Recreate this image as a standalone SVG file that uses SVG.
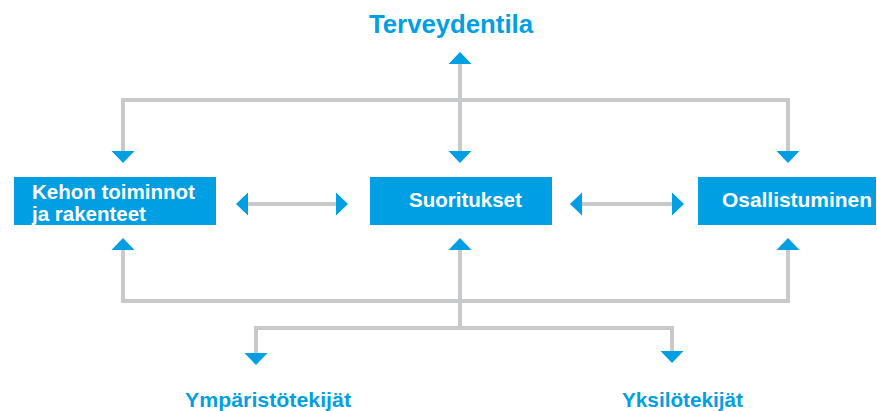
<svg xmlns="http://www.w3.org/2000/svg" xmlns:xlink="http://www.w3.org/1999/xlink" width="877" height="411" viewBox="0 0 877 411">
  <style>
    .box { fill: #009FE3; }
    .bt { font-family: "Liberation Sans", Arial, sans-serif; font-weight: bold; font-size: 20.5px; fill: #FFFFFF; }
    .lbl { font-family: "Liberation Sans", Arial, sans-serif; font-weight: bold; font-size: 21px; fill: #009FE3; }
    .ttl { font-family: "Liberation Sans", Arial, sans-serif; font-weight: bold; font-size: 25px; fill: #009FE3; }
    .ln { fill: none; stroke: #C8C9CA; stroke-width: 4; stroke-linejoin: miter; }
    .ah { fill: #009FE3; }
  </style>
  <defs>
    <polygon id="ad" class="ah" points="-11.5,-12 11.5,-12 0,0"/>
  </defs>
  <g id="connectors">
    <path class="ln" d="M123,153 V100 H788 V153"/>
    <path class="ln" d="M460,63 V153"/>
    <path class="ln" d="M123,249 V301 H788 V249"/>
    <path class="ln" d="M460,249 V328"/>
    <path class="ln" d="M256,354 V328 H672 V352"/>
    <path class="ln" d="M246,204 H338"/>
    <path class="ln" d="M580,204 H674"/>
    <use xlink:href="#ad" transform="translate(123,163)"/>
    <use xlink:href="#ad" transform="translate(460,163)"/>
    <use xlink:href="#ad" transform="translate(788,163)"/>
    <use xlink:href="#ad" transform="translate(460,52) rotate(180)"/>
    <use xlink:href="#ad" transform="translate(123,238) rotate(180)"/>
    <use xlink:href="#ad" transform="translate(460,238) rotate(180)"/>
    <use xlink:href="#ad" transform="translate(788,238) rotate(180)"/>
    <use xlink:href="#ad" transform="translate(256,365)"/>
    <use xlink:href="#ad" transform="translate(672,363)"/>
    <use xlink:href="#ad" transform="translate(236,204) rotate(90)"/>
    <use xlink:href="#ad" transform="translate(348,204) rotate(-90)"/>
    <use xlink:href="#ad" transform="translate(570,204) rotate(90)"/>
    <use xlink:href="#ad" transform="translate(684,204) rotate(-90)"/>
  </g>
  <g id="terveydentila">
    <text class="ttl" x="369" y="33" textLength="164" lengthAdjust="spacingAndGlyphs">Terveydentila</text>
  </g>
  <g id="kehon">
    <rect class="box" x="14" y="177" width="202" height="48"/>
    <text class="bt" x="32" y="199">Kehon toiminnot</text>
    <text class="bt" x="32" y="221">ja rakenteet</text>
  </g>
  <g id="suoritukset">
    <rect class="box" x="370" y="177" width="182" height="48"/>
    <text class="bt" x="409" y="207">Suoritukset</text>
  </g>
  <g id="osallistuminen">
    <rect class="box" x="698" y="177" width="178" height="48"/>
    <text class="bt" x="722" y="207" textLength="150" lengthAdjust="spacingAndGlyphs">Osallistuminen</text>
  </g>
  <g id="ymparistotekijat">
    <text class="lbl" x="185" y="407" textLength="166" lengthAdjust="spacingAndGlyphs">Ympäristötekijät</text>
  </g>
  <g id="yksilotekijat">
    <text class="lbl" x="622" y="407" textLength="121" lengthAdjust="spacingAndGlyphs">Yksilötekijät</text>
  </g>
</svg>
